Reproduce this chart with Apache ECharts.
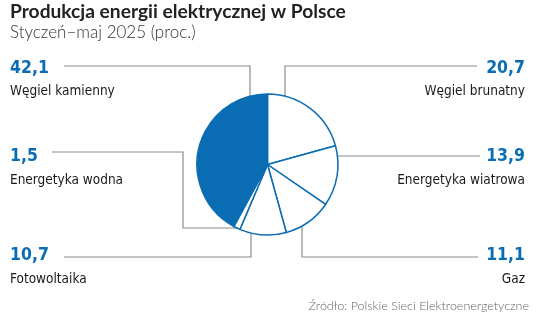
<!DOCTYPE html>
<html>
<head>
<meta charset="utf-8">
<script src="https://cdn.jsdelivr.net/npm/echarts@6/dist/echarts.min.js"></script>
<style>
html,body{margin:0;padding:0;background:#fff;}
#c{width:536px;height:317px;}
</style>
</head>
<body>
<div id="c"></div>
<script>
const categories = ['Węgiel brunatny', 'Energetyka wiatrowa', 'Gaz', 'Fotowoltaika', 'Energetyka wodna', 'Węgiel kamienny'];
const values = [20.7, 13.9, 11.1, 10.7, 1.5, 42.1];
const titleText = 'Produkcja energii elektrycznej w Polsce';
const subtitleText = 'Styczeń–maj 2025 (proc.)';
const sourceText = 'Źródło: Polskie Sieci Elektroenergetyczne';

const BLUE = '#0a6db3';
const GREY = '#8c8c8c';
const COND = '"DejaVu Sans Condensed", sans-serif';

// label placement per category index
const labelPos = [
  {x: 525, y: 56, align: 'right'},
  {x: 525, y: 144.5, align: 'right'},
  {x: 525, y: 243.5, align: 'right'},
  {x: 10, y: 243.5, align: 'left'},
  {x: 10, y: 144.5, align: 'left'},
  {x: 10, y: 56, align: 'left'}
];
const leaders = [
  [[285, 96], [285, 66], [477, 66]],
  [[338, 156], [480, 156]],
  [[302, 226], [302, 257], [478, 257]],
  [[64, 257], [251, 257], [251, 233]],
  [[52, 152], [183, 152], [183, 228], [237, 228]],
  [[64, 66], [250, 66], [250, 96]]
];

const chart = echarts.init(document.getElementById('c'), null, {renderer: 'canvas'});
const data = categories.map((n, i) => ({
  name: n,
  value: values[i],
  itemStyle: i === 5 ? {color: BLUE, borderColor: BLUE, borderWidth: 1.5}
                     : {color: '#ffffff', borderColor: BLUE, borderWidth: 1.5}
}));

const graphics = [
  {type: 'text', left: 10, top: 2, style: {text: titleText, font: 'bold 19.2px Lato', fill: '#222'}},
  {type: 'text', left: 10, top: 24, style: {text: subtitleText, font: '300 17px Lato', fill: '#333'}},
  {type: 'text', right: 7, top: 299, style: {text: sourceText, font: '300 12.5px Lato', fill: '#666'}}
];
leaders.forEach(pts => graphics.push({
  type: 'polyline', silent: true,
  shape: {points: pts},
  style: {stroke: GREY, lineWidth: 1.2, fill: null}
}));

chart.setOption({
  animation: false,
  backgroundColor: '#fff',
  graphic: graphics,
  series: [{
    type: 'pie',
    center: [267.5, 164.5],
    radius: 70.5,
    startAngle: 90,
    clockwise: true,
    silent: true,
    data: data,
    label: {
      show: true,
      position: 'outside',
      overflow: 'none',
      formatter: p => '{v|' + String(p.value).replace('.', ',') + '}\n{n|' + p.name + '}',
      rich: {
        v: {fontFamily: COND, fontWeight: 'bold', fontSize: 17.5, color: BLUE, lineHeight: 24},
        n: {fontFamily: COND, fontSize: 13.5, color: '#1a1a1a', lineHeight: 23}
      }
    },
    labelLine: {show: false},
    labelLayout: function (params) {
      const p = labelPos[params.dataIndex];
      return {x: p.x, y: p.y, align: p.align, verticalAlign: 'top', moveOverlap: null, hideOverlap: false};
    }
  }]
});
</script>
</body>
</html>
